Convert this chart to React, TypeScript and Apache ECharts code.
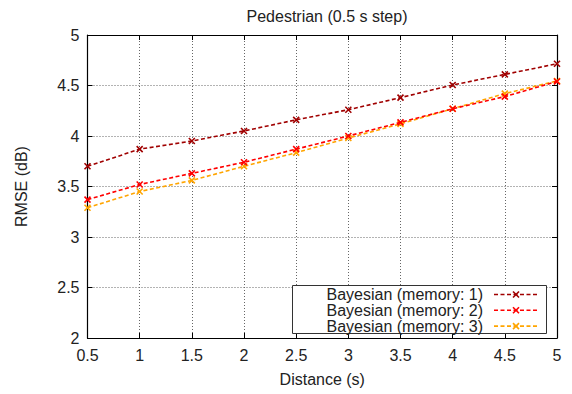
import React, { useEffect, useRef } from "react";
import * as echarts from "echarts";

const distances = [0.5, 1, 1.5, 2, 2.5, 3, 3.5, 4, 4.5, 5];
const memory1 = [3.7, 3.87, 3.95, 4.05, 4.16, 4.26, 4.38, 4.505, 4.61, 4.715];
const memory2 = [3.37, 3.52, 3.63, 3.74, 3.87, 4.0, 4.135, 4.27, 4.39, 4.54];
const memory3 = [3.29, 3.45, 3.56, 3.7, 3.835, 3.98, 4.12, 4.27, 4.42, 4.545];
const seriesNames = ["Bayesian (memory: 1)", "Bayesian (memory: 2)", "Bayesian (memory: 3)"];
const seriesColors = ["#a00000", "#ff0000", "#ffa500"];
const yTicks = [2, 2.5, 3, 3.5, 4, 4.5, 5];

const FONT = "Liberation Sans, Arial, sans-serif";
const XMARK = "path://M0,0L10,10M10,0L0,10";

export default function App() {
  const ref = useRef<HTMLDivElement>(null);
  useEffect(() => {
    if (!ref.current) return;
    const chart = echarts.init(ref.current, undefined, { renderer: "svg" });
    const allData = [memory1, memory2, memory3];
    const series = allData.map((vals, i) => ({
      name: seriesNames[i],
      type: "line",
      xAxisIndex: 0,
      yAxisIndex: 0,
      data: distances.map((d, j) => [d, vals[j]]),
      symbol: XMARK,
      symbolSize: 6,
      itemStyle: { color: seriesColors[i], borderColor: seriesColors[i], borderWidth: 1.6 },
      lineStyle: { color: seriesColors[i], width: 1.6, type: [4, 2.5] },
      z: 10 - i,
    }));

    const legendTop = 286;
    const rowH = 15.8;
    const legendGraphics: any[] = [
      {
        type: "rect",
        shape: { x: 292.5, y: legendTop - 0.5, width: 254, height: 48 },
        style: { fill: "#fff", stroke: "#333", lineWidth: 1 },
        z: 100,
      },
    ];
    seriesNames.forEach((n, i) => {
      const cy = legendTop + 8.5 + i * rowH;
      legendGraphics.push({
        type: "text",
        x: 483,
        y: cy,
        style: { text: n, font: `16px ${FONT}`, fill: "#222", align: "right", verticalAlign: "middle" },
        z: 101,
      });
      legendGraphics.push({
        type: "line",
        shape: { x1: 494, y1: cy, x2: 537, y2: cy },
        style: { stroke: seriesColors[i], lineWidth: 1.6, lineDash: [4, 2.5] },
        z: 101,
      });
      legendGraphics.push({
        type: "line",
        shape: { x1: 513, y1: cy - 3, x2: 519, y2: cy + 3 },
        style: { stroke: seriesColors[i], lineWidth: 1.6 },
        z: 102,
      });
      legendGraphics.push({
        type: "line",
        shape: { x1: 519, y1: cy - 3, x2: 513, y2: cy + 3 },
        style: { stroke: seriesColors[i], lineWidth: 1.6 },
        z: 102,
      });
    });

    const axisLine = { show: true, lineStyle: { color: "#000", width: 1.2 } };
    const axisTick = { show: true, inside: true, length: 5, lineStyle: { color: "#000" } };
    const splitLine = { show: true, lineStyle: { color: "#666", type: [1, 2], width: 1 } };

    chart.setOption({
      animation: false,
      backgroundColor: "#fff",
      title: {
        text: "Pedestrian (0.5 s step)",
        left: 322,
        top: 3,
        textAlign: "center",
        textStyle: { fontFamily: FONT, fontSize: 16, fontWeight: "normal", color: "#222" },
      },
      grid: { left: 87.5, right: 15, top: 35, bottom: 56, containLabel: false },
      xAxis: [
        {
          type: "value",
          min: 0.5,
          max: 5,
          interval: 0.5,
          position: "bottom",
          name: "Distance (s)",
          nameLocation: "middle",
          nameGap: 33,
          nameTextStyle: { fontFamily: FONT, fontSize: 16, color: "#222" },
          axisLine,
          axisTick,
          splitLine,
          axisLabel: { fontFamily: FONT, fontSize: 16, color: "#222", margin: 9 },
        },
        {
          type: "value",
          min: 0.5,
          max: 5,
          interval: 0.5,
          position: "top",
          axisLine,
          axisTick,
          splitLine: { show: false },
          axisLabel: { show: false },
        },
      ],
      yAxis: [
        {
          type: "value",
          min: yTicks[0],
          max: yTicks[yTicks.length - 1],
          interval: 0.5,
          position: "left",
          name: "RMSE (dB)",
          nameLocation: "middle",
          nameGap: 58,
          nameTextStyle: { fontFamily: FONT, fontSize: 16, color: "#222" },
          axisLine,
          axisTick,
          splitLine,
          axisLabel: { fontFamily: FONT, fontSize: 16, color: "#222", margin: 8 },
        },
        {
          type: "value",
          min: yTicks[0],
          max: yTicks[yTicks.length - 1],
          interval: 0.5,
          position: "right",
          axisLine,
          axisTick,
          splitLine: { show: false },
          axisLabel: { show: false },
        },
      ],
      series,
      graphic: legendGraphics,
    });
    return () => chart.dispose();
  }, []);
  return <div ref={ref} style={{ width: 572, height: 394, position: "absolute", left: 0, top: 0 }} />;
}
